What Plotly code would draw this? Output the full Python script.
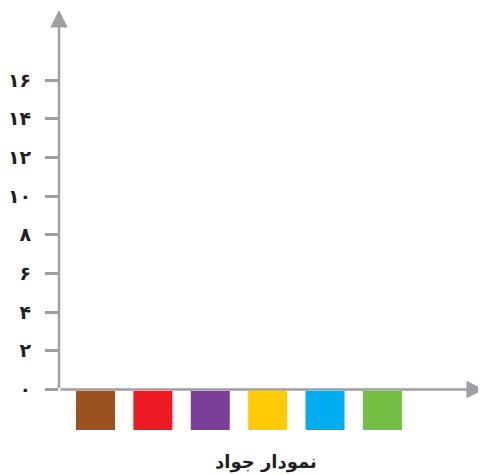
import plotly.graph_objects as go

# ---- data ----
categories = ["قهوه‌ای", "قرمز", "بنفش", "زرد", "آبی", "سبز"]
values = [0, 0, 0, 0, 0, 0]
colors = ["#9B5220", "#ED1C24", "#7B3F98", "#FFCB05", "#00AEEF", "#72BF44"]
tick_values = [0, 2, 4, 6, 8, 10, 12, 14, 16]
tick_labels = ["۰", "۲", "۴", "۶", "۸", "۱۰", "۱۲", "۱۴", "۱۶"]
title_text = "نمودار جواد"

AXIS = "#9D9FA2"
TEXT = "#231F20"
FONT = "DejaVu Sans"

x_idx = list(range(len(categories)))
x_min, x_max = -0.636, 6.77
y_min, y_max = -2.61, 19.62

fig = go.Figure()

# empty data bars (values to be filled)
fig.add_trace(go.Bar(x=x_idx, y=values, marker_color=colors, width=0.68,
                     hoverinfo="skip", showlegend=False))

# colour key swatches under the axis
fig.add_trace(go.Bar(x=x_idx, y=[2.01] * len(categories), base=[-2.09] * len(categories),
                     marker=dict(color=colors, line=dict(width=0)), width=0.68,
                     hoverinfo="skip", showlegend=False))

# axis lines with arrows
fig.add_annotation(x=x_max, y=0, ax=x_min, ay=0, xref="x", yref="y", axref="x", ayref="y",
                   text="", showarrow=True, arrowhead=2, arrowsize=1.4, arrowwidth=2.5,
                   arrowcolor=AXIS, standoff=0)
fig.add_annotation(x=x_min, y=y_max, ax=x_min, ay=0, xref="x", yref="y", axref="x", ayref="y",
                   text="", showarrow=True, arrowhead=2, arrowsize=1.4, arrowwidth=2.5,
                   arrowcolor=AXIS, standoff=0)

fig.add_annotation(x=(266 - 59) / 425, y=-(462 - 440) / 430, xref="paper", yref="paper",
                   xanchor="center", yanchor="middle",
                   text="<b>" + title_text + "</b>",
                   showarrow=False, font=dict(family=FONT, size=18, color=TEXT))

fig.update_layout(
    width=478, height=466,
    margin=dict(l=51, r=2, t=2, b=34, autoexpand=False),
    paper_bgcolor="white", plot_bgcolor="white",
    barmode="overlay",
    xaxis=dict(range=[x_min, x_max], showgrid=False, zeroline=False, showline=False,
               showticklabels=False, ticks=""),
    yaxis=dict(range=[y_min, y_max], showgrid=False, zeroline=False, showline=False,
               tickvals=tick_values, ticktext=["<b>" + t + "</b>" for t in tick_labels],
               ticks="outside", ticklen=13,
               tickwidth=2.5, tickcolor=AXIS, ticklabelstandoff=10,
               tickfont=dict(family=FONT, size=19, color=TEXT)),
)

fig.write_html("out.html")
